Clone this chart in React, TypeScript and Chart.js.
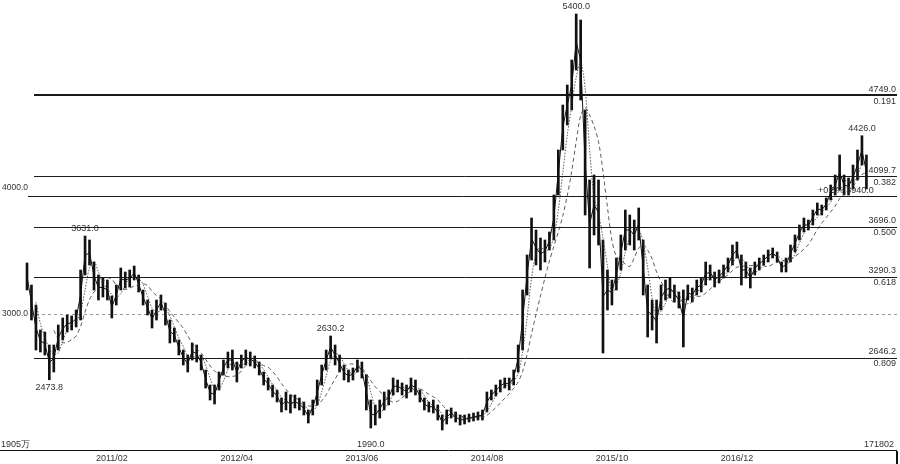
import React, { useEffect, useRef } from "react";
import { Chart, registerables } from "chart.js";
Chart.register(...registerables);

// Half-month periods starting 2010/04 (second half); period k -> month 2010/01 + 3.5 + k/2
const highs: number[] = [
  3408, 3232, 3072, 2872, 2856, 2752, 2752, 2912, 2968, 2992,
  2984, 3032, 3352, 3624, 3592, 3416, 3312, 3288, 3272, 3144,
  3232, 3368, 3336, 3352, 3384, 3312, 3192, 3112, 3032, 3112,
  3152, 3088, 2952, 2888, 2792, 2712, 2672, 2768, 2752, 2672,
  2552, 2432, 2432, 2536, 2632, 2696, 2712, 2616, 2672, 2712,
  2696, 2664, 2616, 2536, 2488, 2432, 2392, 2328, 2376, 2352,
  2352, 2328, 2296, 2232, 2312, 2472, 2592, 2712, 2824, 2752,
  2672, 2592, 2552, 2568, 2632, 2616, 2512, 2312, 2272, 2312,
  2376, 2392, 2488, 2472, 2448, 2432, 2488, 2472, 2392, 2328,
  2296, 2312, 2272, 2192, 2232, 2248, 2216, 2192, 2192, 2200,
  2208, 2216, 2232, 2376, 2392, 2432, 2472, 2488, 2488, 2552,
  2752, 3192, 3472, 3768, 3672, 3608, 3592, 3656, 3952, 4312,
  4672, 4832, 5032, 5400, 5352, 4632, 4072, 4112, 4072, 3592,
  3352, 3272, 3448, 3632, 3832, 3792, 3752, 3848, 3592, 3232,
  3112, 3112, 3232, 3272, 3288, 3232, 3176, 3192, 3232, 3208,
  3272, 3288, 3416, 3392, 3336, 3352, 3392, 3448, 3552, 3576,
  3472, 3416, 3368, 3416, 3448, 3472, 3512, 3528, 3496, 3416,
  3448, 3552, 3632, 3712, 3768, 3752, 3832, 3888, 3872, 3928,
  4032, 4112, 4272, 4112, 4088, 4192, 4312, 4426, 4272,
];
const lows: number[] = [
  3192, 2952, 2712, 2696, 2672, 2474, 2536, 2712, 2792, 2856,
  2872, 2896, 2952, 3312, 3392, 3192, 3112, 3136, 3112, 2968,
  3072, 3192, 3208, 3216, 3272, 3176, 3072, 2992, 2888, 2952,
  3032, 2912, 2768, 2776, 2672, 2592, 2536, 2632, 2616, 2552,
  2408, 2312, 2280, 2392, 2512, 2568, 2552, 2456, 2568, 2592,
  2584, 2568, 2512, 2432, 2392, 2336, 2296, 2216, 2232, 2208,
  2248, 2232, 2192, 2128, 2192, 2272, 2432, 2552, 2648, 2592,
  2536, 2472, 2456, 2472, 2536, 2488, 2232, 2088, 2112, 2168,
  2232, 2272, 2352, 2376, 2352, 2328, 2376, 2352, 2296, 2232,
  2216, 2208, 2152, 2072, 2120, 2168, 2136, 2112, 2120, 2136,
  2144, 2152, 2152, 2216, 2312, 2344, 2376, 2408, 2392, 2432,
  2536, 2712, 3152, 3432, 3392, 3352, 3416, 3512, 3592, 3952,
  4312, 4512, 4632, 4952, 4712, 3792, 3368, 3632, 3552, 2688,
  3032, 3072, 3192, 3352, 3512, 3552, 3512, 3592, 3152, 2816,
  2872, 2768, 3032, 3112, 3128, 3096, 3048, 2736, 3112, 3096,
  3152, 3176, 3232, 3272, 3216, 3248, 3288, 3336, 3392, 3448,
  3232, 3288, 3208, 3312, 3352, 3392, 3416, 3448, 3416, 3336,
  3336, 3416, 3496, 3592, 3656, 3672, 3712, 3792, 3792, 3832,
  3912, 3952, 3992, 3952, 3952, 4000, 4072, 4192, 4000,
];

const dateTickPeriods: number[] = [19, 47, 75, 103, 131, 159];
const dateTickLabels: string[] = ["2011/02", "2012/04", "2013/06", "2014/08", "2015/10", "2016/12"];

const fibLevels: number[] = [4749, 4104, 3944, 3700, 3300, 2652];
const fibValueLabels: string[] = ["4749.0", "4099.7", "", "3696.0", "3290.3", "2646.2"];
const fibRatioLabels: string[] = ["0.191", "0.382", "", "0.500", "0.618", "0.809"];
const fibWidths: number[] = [2, 1, 1, 1, 1, 1];

const gridLevels: number[] = [4000, 3000];
const gridLabels: string[] = ["4000.0", "3000.0"];

const peakPeriods: number[] = [13, 5, 68, 77, 123, 187];
const peakTexts: string[] = ["3631.0", "2473.8", "2630.2", "1990.0", "5400.0", "4426.0"];
const peakIsHigh: boolean[] = [true, false, true, false, true, true];

const X_MIN = -6.05;
const X_MAX = 194.85;
const Y_MIN = 1912;
const Y_MAX = 5512;

function movingAvg(vals: number[], n: number): (number | null)[] {
  return vals.map((_, i) => {
    if (i < n - 1) return null;
    let s = 0;
    for (let j = i - n + 1; j <= i; j++) s += vals[j];
    return s / n;
  });
}

const FONT = "Liberation Sans, Arial, sans-serif";

const overlay = {
  id: "overlay",
  beforeDatasetsDraw(chart: any) {
    const ctx = chart.ctx;
    const ys = chart.scales.y;
    const W = chart.width;
    ctx.save();
    ctx.strokeStyle = "#9a9a9a";
    ctx.lineWidth = 1;
    ctx.setLineDash([3, 3]);
    const y3 = Math.round(ys.getPixelForValue(3000)) + 0.5;
    ctx.beginPath();
    ctx.moveTo(30, y3);
    ctx.lineTo(W - 3, y3);
    ctx.stroke();
    ctx.setLineDash([]);
    fibLevels.forEach((v, i) => {
      const y = Math.round(ys.getPixelForValue(v)) + (fibWidths[i] === 2 ? 0 : 0.5);
      ctx.strokeStyle = "#1a1a1a";
      ctx.lineWidth = fibWidths[i];
      ctx.beginPath();
      ctx.moveTo(i === 2 ? 28 : 34, y);
      ctx.lineTo(W - 3, y);
      ctx.stroke();
    });
    ctx.restore();
  },
  afterDatasetsDraw(chart: any) {
    const ctx = chart.ctx;
    const ys = chart.scales.y;
    const xs = chart.scales.x;
    const W = chart.width;
    ctx.save();
    ctx.font = `8.5px ${FONT}`;
    ctx.fillStyle = "#333";
    ctx.textAlign = "left";
    ctx.textBaseline = "middle";
    gridLevels.forEach((v, i) => {
      ctx.fillText(gridLabels[i], 2, ys.getPixelForValue(v) - (i === 0 ? 1 : 0));
    });
    ctx.font = `9px ${FONT}`;
    ctx.textAlign = "right";
    fibLevels.forEach((v, i) => {
      const y = ys.getPixelForValue(v);
      if (fibValueLabels[i]) {
        ctx.textBaseline = "bottom";
        ctx.fillText(fibValueLabels[i], W - 4, y - 1);
      }
      if (fibRatioLabels[i]) {
        ctx.textBaseline = "top";
        ctx.fillText(fibRatioLabels[i], W - 4, y + 2);
      }
    });
    ctx.textAlign = "left";
    ctx.textBaseline = "bottom";
    ctx.fillText("+0.5% 3940.0", 818, ys.getPixelForValue(fibLevels[2]) - 1);
    ctx.textAlign = "center";
    peakPeriods.forEach((k, i) => {
      const x = xs.getPixelForValue(k);
      if (peakIsHigh[i]) {
        ctx.textBaseline = "bottom";
        ctx.fillText(peakTexts[i], x, ys.getPixelForValue(highs[k]) - 3);
      } else {
        ctx.textBaseline = "top";
        ctx.fillText(peakTexts[i], x, ys.getPixelForValue(lows[k]) + (i === 3 ? 12 : 3));
      }
    });
    ctx.textAlign = "left";
    ctx.textBaseline = "middle";
    ctx.fillText("1905万", 1, 445);
    ctx.textAlign = "right";
    ctx.fillText("171802", W - 6, 445);
    ctx.strokeStyle = "#111";
    ctx.lineWidth = 1;
    ctx.beginPath();
    ctx.moveTo(0, 450.5);
    ctx.lineTo(W - 3, 450.5);
    ctx.stroke();
    ctx.lineWidth = 2;
    ctx.beginPath();
    ctx.moveTo(W - 3, 451);
    ctx.lineTo(W - 3, 464);
    ctx.stroke();
    ctx.restore();
  },
};

export default function App() {
  const ref = useRef<HTMLCanvasElement | null>(null);
  useEffect(() => {
    if (!ref.current) return;
    const mids = highs.map((h, i) => (h + lows[i]) / 2);
    const ma3 = movingAvg(mids, 3);
    const ma7 = movingAvg(mids, 7);
    const xsIdx = highs.map((_, i) => i);
    const chart = new Chart(ref.current, {
      type: "bar",
      data: {
        datasets: [
          {
            type: "line",
            label: "mid",
            data: xsIdx.map((k) => ({ x: k, y: mids[k] })),
            borderColor: "#111",
            borderWidth: 1,
            pointRadius: 0,
            tension: 0,
          } as any,
          {
            type: "line",
            label: "MA short",
            data: xsIdx.map((k) => ({ x: k, y: ma3[k] })),
            borderColor: "#333",
            borderWidth: 0.8,
            borderDash: [1.5, 1.5],
            pointRadius: 0,
            tension: 0.3,
          } as any,
          {
            type: "line",
            label: "MA long",
            data: xsIdx.map((k) => ({ x: k, y: ma7[k] })),
            borderColor: "#333",
            borderWidth: 0.8,
            borderDash: [4, 3],
            pointRadius: 0,
            tension: 0.3,
          } as any,
          {
            type: "bar",
            label: "range",
            data: xsIdx.map((k) => ({ x: k, y: [lows[k], highs[k]] })) as any,
            backgroundColor: "#111",
            borderWidth: 0,
            barThickness: 2,
          } as any,
        ],
      },
      options: {
        animation: false,
        responsive: false,
        maintainAspectRatio: false,
        events: [],
        layout: { padding: { left: 0, right: 3, top: 0, bottom: 0 } },
        plugins: { legend: { display: false }, tooltip: { enabled: false } },
        scales: {
          x: {
            type: "linear",
            min: X_MIN,
            max: X_MAX,
            offset: false,
            grid: { display: false, drawTicks: false },
            border: { display: false },
            afterBuildTicks: (axis: any) => {
              axis.ticks = dateTickPeriods.map((v) => ({ value: v }));
            },
            afterFit: (axis: any) => {
              axis.height = 14;
            },
            ticks: {
              autoSkip: false,
              maxRotation: 0,
              padding: 3,
              color: "#333",
              font: { size: 9, family: FONT },
              callback: (v: any) => {
                const i = dateTickPeriods.indexOf(Number(v));
                return i >= 0 ? dateTickLabels[i] : "";
              },
            },
          },
          y: {
            display: false,
            min: Y_MIN,
            max: Y_MAX,
          },
        },
      },
      plugins: [overlay],
    });
    return () => chart.destroy();
  }, []);
  return (
    <div style={{ position: "fixed", left: 0, top: 0, width: 900, height: 464, background: "#fff" }}>
      <canvas ref={ref} width={900} height={464} style={{ width: 900, height: 464, display: "block" }} />
    </div>
  );
}
